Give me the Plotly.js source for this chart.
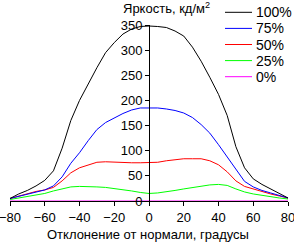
<!DOCTYPE html>
<html>
<head>
<meta charset="utf-8">
<script src="https://cdn.plot.ly/plotly-3.0.1.min.js"></script>
<style>
  html, body { margin: 0; padding: 0; background: #fff; }
  #chart { width: 294px; height: 242px; }
</style>
</head>
<body>
<div id="chart"></div>
<script>
// Viewing angle, degrees from the screen normal
const angles = [-80, -75, -70, -65, -60, -55, -50, -45, -40, -35, -30, -25, -20, -15, -10, -5, 0,
                5, 10, 15, 20, 25, 30, 35, 40, 45, 50, 55, 60, 65, 70, 75, 80];

// Brightness, cd/m2, for each backlight level
const lum100 = [5, 14, 21, 30, 41, 60, 105, 160, 200, 233, 265, 295, 315, 332, 342, 347, 348,
                347, 345, 338, 328, 306, 278, 246, 212, 170, 108, 66, 44, 33, 24, 15, 6];
const lum75  = [5, 9, 13, 17, 22, 30, 48, 75, 96, 120, 142, 156, 165, 174, 181, 185, 185,
                185, 183, 180, 175, 166, 152, 135, 112, 88, 63, 39, 28, 21, 16, 11, 6];
const lum50  = [5, 10, 14, 19, 22, 27, 40, 56, 66, 72, 77, 78, 77, 76, 76, 76, 76,
                77, 80, 82, 84, 84, 84, 80, 72, 58, 40, 29, 24, 18, 14, 10, 6];
const lum25  = [3, 6, 9, 12, 15, 20, 24, 28, 29, 29, 28, 27, 25, 23, 20, 17, 15,
                16, 18, 21, 24, 27, 29, 32, 33, 31, 24, 18, 14, 11, 9, 6, 4];
const lum0   = [0, 0, 0, 0, 0, 0, 0, 0, 0, 0, 0, 0, 0, 0, 0, 0, 0,
                0, 0, 0, 0, 0, 0, 0, 0, 0, 0, 0, 0, 0, 0, 0, 0];

const seriesNames  = ['100%', '75%', '50%', '25%', '0%'];
const seriesColors = ['#000000', '#0000ff', '#ff0000', '#00ff00', '#ff00ff'];
const seriesValues = [lum100, lum75, lum50, lum25, lum0];

const xTicks = [-80, -60, -40, -20, 0, 20, 40, 60, 80];
const yTicks = [0, 50, 100, 150, 200, 250, 300, 350];

const yTitle = 'Яркость, кд/м<sup>2</sup>';
const xTitle = 'Отклонение от нормали, градусы';

const W = 294, H = 242;
const M = { l: 10, r: 6, t: 25, b: 41 };
const FONT = '"Liberation Sans", Arial, sans-serif';

// pixel -> paper helpers for annotations and the hand-built legend
const px = x => (x - M.l) / (W - M.l - M.r);
const py = y => (H - M.b - y) / (H - M.t - M.b);

// draw the 0% trace first so brighter curves sit on top
const traces = seriesValues.map((vals, i) => ({
  x: angles,
  y: vals,
  type: 'scatter',
  mode: 'lines',
  name: seriesNames[i],
  line: { color: seriesColors[i], width: 1 },
  hoverinfo: 'skip'
})).reverse();

const shapes = [];
const annotations = [
  {
    text: yTitle, xref: 'paper', yref: 'paper',
    x: px(121), y: py(8), xanchor: 'left', yanchor: 'middle',
    showarrow: false, font: { family: FONT, size: 13, color: '#000' }
  },
  {
    text: xTitle, xref: 'paper', yref: 'paper',
    x: px(148), y: py(234), xanchor: 'center', yanchor: 'middle',
    showarrow: false, font: { family: FONT, size: 13, color: '#000' }
  }
];

// legend: short line sample plus label for each level
const legendRow0 = 12.3, legendStep = 16.1;
seriesNames.forEach((name, i) => {
  const yy = legendRow0 + i * legendStep;
  shapes.push({
    type: 'line', xref: 'paper', yref: 'paper',
    x0: px(225), x1: px(252), y0: py(yy), y1: py(yy),
    line: { color: seriesColors[i], width: 1 }
  });
  annotations.push({
    text: name, xref: 'paper', yref: 'paper',
    x: px(254), y: py(yy), xanchor: 'left', yanchor: 'middle',
    showarrow: false, font: { family: FONT, size: 14, color: '#000' }
  });
});

const layout = {
  width: W, height: H,
  margin: M,
  paper_bgcolor: '#fff',
  plot_bgcolor: '#fff',
  showlegend: false,
  font: { family: FONT, size: 13, color: '#000' },
  xaxis: {
    range: [-80, 80],
    tickvals: xTicks,
    ticks: 'outside', ticklen: 4, tickcolor: '#000', tickwidth: 1,
    showline: true, linecolor: '#000', linewidth: 1,
    showgrid: false, zeroline: false,
    ticklabeloverflow: 'allow',
    tickfont: { family: FONT, size: 13, color: '#000' },
    fixedrange: true
  },
  yaxis: {
    range: [0, 350],
    tickvals: yTicks,
    anchor: 'free', position: 0.5,
    ticks: 'outside', ticklen: 4, tickcolor: '#000', tickwidth: 1,
    showline: true, linecolor: '#000', linewidth: 1,
    showgrid: false, zeroline: false,
    ticklabeloverflow: 'allow',
    tickfont: { family: FONT, size: 13, color: '#000' },
    fixedrange: true
  },
  shapes: shapes,
  annotations: annotations
};

Plotly.newPlot('chart', traces, layout, { staticPlot: true, displayModeBar: false });
</script>
</body>
</html>
